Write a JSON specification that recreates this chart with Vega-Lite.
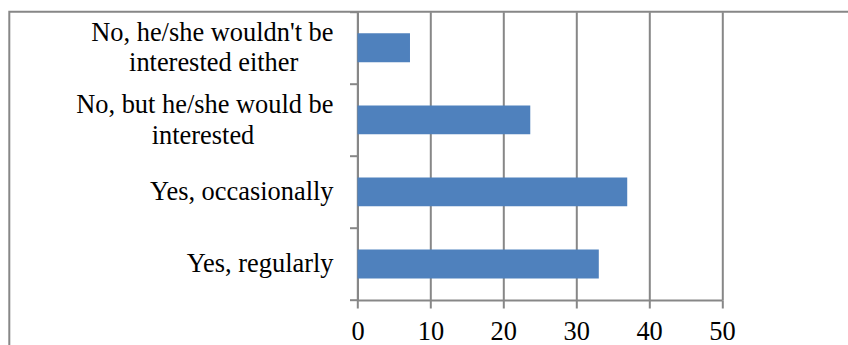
{
  "$schema": "https://vega.github.io/schema/vega-lite/v6.json",
  "width": 841.7,
  "height": 336.3,
  "autosize": {"type": "none"},
  "padding": {"left": 9.3, "top": 11.7, "right": -3, "bottom": -3},
  "background": "white",
  "config": {
    "view": {"stroke": "#878787", "strokeWidth": 2},
    "font": "Liberation Serif"
  },
  "data": {
    "values": [
      {"answer": "No, he/she wouldn't be interested either", "value": 7.2},
      {"answer": "No, but he/she would be interested", "value": 23.7},
      {"answer": "Yes, occasionally", "value": 37.0},
      {"answer": "Yes, regularly", "value": 33.1}
    ]
  },
  "encoding": {
    "y": {
      "field": "answer",
      "type": "nominal",
      "sort": null,
      "title": null,
      "scale": {"range": [0, 288.3], "paddingInner": 0, "paddingOuter": 0},
      "axis": {
        "offset": -348.2,
        "domainColor": "#878787",
        "domainWidth": 2,
        "tickColor": "#878787",
        "tickWidth": 2,
        "tickSize": 8,
        "tickBand": "extent",
        "grid": false,
        "labelFontSize": 26.4,
        "labelColor": "#000000",
        "labelLimit": 400,
        "labelLineHeight": 15.25,
        "labelAlign": "right",
        "labelBaseline": "middle",
        "labelOffset": -15.25,
        "labelPadding": 16.5,
        "labelExpr": "datum.value == 'No, but he/she would be interested' ? ['No, but he/she would be', '\u2060', 'interested\u00a0\u00a0\u00a0\u00a0\u00a0\u00a0\u00a0\u00a0\u00a0\u00a0\u00a0\u00a0\u2060'] : datum.value == \"No, he/she wouldn't be interested either\" ? [\"No, he/she wouldn't be\", '\u2060', 'interested either\u00a0\u00a0\u00a0\u00a0\u00a0\u200a\u2060'] : ['\u2060', datum.value]"
      }
    }
  },
  "resolve": {"axis": {"x": "independent"}},
  "layer": [
    {
      "mark": {"type": "bar", "opacity": 0, "height": {"band": 0.4}},
      "encoding": {
        "x": {
          "field": "value",
          "type": "quantitative",
          "title": null,
          "scale": {"domain": [0, 50], "range": [348.2, 712.7], "nice": false},
          "axis": {
            "orient": "top",
            "values": [0, 10, 20, 30, 40, 50],
            "grid": true,
            "gridColor": "#878787",
            "gridWidth": 2,
            "domain": false,
            "ticks": false,
            "labels": false
          }
        }
      }
    },
    {
      "mark": {"type": "bar", "color": "#4F81BD", "height": {"band": 0.4}},
      "encoding": {
        "x": {
          "field": "value",
          "type": "quantitative",
          "title": null,
          "scale": {"domain": [0, 50], "range": [348.2, 712.7], "nice": false},
          "axis": {
            "orient": "bottom",
            "offset": -48,
            "values": [0, 10, 20, 30, 40, 50],
            "grid": false,
            "domainColor": "#878787",
            "domainWidth": 2,
            "tickColor": "#878787",
            "tickWidth": 2,
            "tickSize": 8,
            "labelFontSize": 26.4,
            "labelColor": "#000000",
            "labelPadding": 10.5,
            "labelFlush": false,
            "labelOverlap": false
          }
        }
      }
    }
  ]
}
